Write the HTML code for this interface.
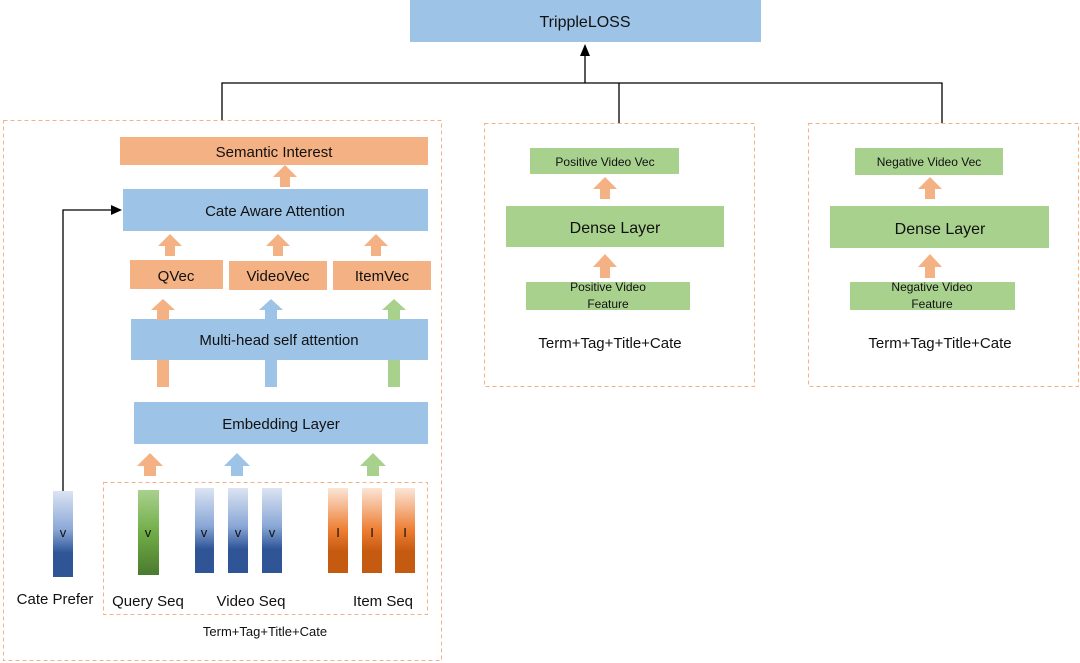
<!DOCTYPE html>
<html><head><meta charset="utf-8"><style>body{margin:0;background:#fff}svg{display:block}text{font-family:"Liberation Sans",sans-serif;fill:#111}</style></head><body>
<svg width="1080" height="663" viewBox="0 0 1080 663" xmlns="http://www.w3.org/2000/svg">
<defs>
<linearGradient id="gb" x1="0" y1="0" x2="0" y2="1"><stop offset="0" stop-color="#dbe4f3"/><stop offset="0.45" stop-color="#8aa7d6"/><stop offset="0.72" stop-color="#2f5597"/><stop offset="1" stop-color="#2f5597"/></linearGradient>
<linearGradient id="gg" x1="0" y1="0" x2="0" y2="1"><stop offset="0" stop-color="#a9d18e"/><stop offset="0.5" stop-color="#70ad47"/><stop offset="1" stop-color="#4a7a2e"/></linearGradient>
<linearGradient id="go" x1="0" y1="0" x2="0" y2="1"><stop offset="0" stop-color="#fbe5d6"/><stop offset="0.5" stop-color="#ed7d31"/><stop offset="0.75" stop-color="#c55a11"/><stop offset="1" stop-color="#c55a11"/></linearGradient>
</defs>
<g fill="none" stroke="#f4b183" stroke-dasharray="4,3" stroke-width="1">
<rect x="3.5" y="120.5" width="438" height="540"/>
<rect x="103.5" y="482.5" width="324" height="132"/>
<rect x="484.5" y="123.5" width="270" height="263"/>
<rect x="808.5" y="123.5" width="270" height="263"/>
</g>
<rect x="410" y="0" width="351" height="42" fill="#9dc3e6"/>
<text x="585" y="27" font-size="16" text-anchor="middle">TrippleLOSS</text>
<g stroke="#000" stroke-width="1.3" fill="none">
<path d="M222 120V83H942V123M619 83V123M585 83V52"/>
<path d="M63 491V210H112"/>
</g>
<path d="M585 44l-5 12h10z" fill="#000"/>
<path d="M122 210l-11-5v10z" fill="#000"/>
<!-- left stack -->
<rect x="120" y="137" width="308" height="28" fill="#f4b183"/>
<text x="274" y="157" font-size="15" text-anchor="middle">Semantic Interest</text>
<rect x="123" y="189" width="305" height="42" fill="#9dc3e6"/>
<text x="275" y="216" font-size="15" text-anchor="middle">Cate Aware Attention</text>
<rect x="130" y="260" width="93" height="29" fill="#f4b183"/>
<rect x="229" y="261" width="98" height="29" fill="#f4b183"/>
<rect x="333" y="261" width="98" height="29" fill="#f4b183"/>
<text x="176" y="281" font-size="15" text-anchor="middle">QVec</text>
<text x="278" y="281" font-size="15" text-anchor="middle">VideoVec</text>
<text x="382" y="281" font-size="15" text-anchor="middle">ItemVec</text>
<rect x="131" y="319" width="297" height="41" fill="#9dc3e6"/>
<text x="279" y="345" font-size="15" text-anchor="middle">Multi-head self attention</text>
<rect x="134" y="402" width="294" height="42" fill="#9dc3e6"/>
<text x="281" y="429" font-size="15" text-anchor="middle">Embedding Layer</text>
<!-- arrows: up arrow helper -->
<g fill="#f4b183">
<path d="M280 187v-10h-7l12-12 12 12h-7v10z"/>
<path d="M165 256v-10h-7l12-12 12 12h-7v10z"/>
<path d="M273 256v-10h-7l12-12 12 12h-7v10z"/>
<path d="M371 256v-10h-7l12-12 12 12h-7v10z"/>
<path d="M157 320v-10h-6l12-11 12 11h-6v10z"/>
<rect x="157" y="360" width="12" height="27"/>
<path d="M144 476v-10h-7l13-13 13 13h-7v10z"/>
</g>
<g fill="#9dc3e6">
<path d="M265 320v-10h-6l12-11 12 11h-6v10z"/>
<rect x="265" y="360" width="12" height="27"/>
<path d="M231 476v-10h-7l13-13 13 13h-7v10z"/>
</g>
<g fill="#a9d18e">
<path d="M388 320v-10h-6l12-11 12 11h-6v10z"/>
<rect x="388" y="360" width="12" height="27"/>
<path d="M367 476v-10h-7l13-13 13 13h-7v10z"/>
</g>
<!-- bars -->
<rect x="53" y="491" width="20" height="86" fill="url(#gb)"/>
<rect x="138" y="490" width="21" height="85" fill="url(#gg)"/>
<rect x="195" y="488" width="19" height="85" fill="url(#gb)"/>
<rect x="228" y="488" width="20" height="85" fill="url(#gb)"/>
<rect x="262" y="488" width="20" height="85" fill="url(#gb)"/>
<rect x="328" y="488" width="20" height="85" fill="url(#go)"/>
<rect x="362" y="488" width="20" height="85" fill="url(#go)"/>
<rect x="395" y="488" width="20" height="85" fill="url(#go)"/>
<g font-size="13" text-anchor="middle">
<text x="63" y="537">v</text><text x="148" y="537">v</text><text x="204" y="537">v</text><text x="238" y="537">v</text><text x="272" y="537">v</text>
<text x="338" y="537" font-family="Liberation Serif">I</text><text x="372" y="537" font-family="Liberation Serif">I</text><text x="405" y="537" font-family="Liberation Serif">I</text>
</g>
<g font-size="15" text-anchor="middle">
<text x="55" y="604">Cate Prefer</text>
<text x="148" y="606">Query Seq</text>
<text x="251" y="606">Video Seq</text>
<text x="383" y="606">Item Seq</text>
</g>
<text x="265" y="636" font-size="13" text-anchor="middle">Term+Tag+Title+Cate</text>
<!-- middle -->
<rect x="530" y="148" width="149" height="26" fill="#a9d18e"/>
<text x="605" y="166" font-size="12" text-anchor="middle">Positive Video Vec</text>
<rect x="506" y="206" width="218" height="41" fill="#a9d18e"/>
<text x="615" y="233" font-size="16" text-anchor="middle">Dense Layer</text>
<rect x="526" y="282" width="164" height="28" fill="#a9d18e"/>
<text x="608" y="291" font-size="12" text-anchor="middle">Positive Video</text>
<text x="608" y="308" font-size="12" text-anchor="middle">Feature</text>
<text x="610" y="348" font-size="15" text-anchor="middle">Term+Tag+Title+Cate</text>
<!-- right -->
<rect x="855" y="148" width="148" height="27" fill="#a9d18e"/>
<text x="929" y="166" font-size="12" text-anchor="middle">Negative Video Vec</text>
<rect x="830" y="206" width="219" height="42" fill="#a9d18e"/>
<text x="940" y="234" font-size="16" text-anchor="middle">Dense Layer</text>
<rect x="850" y="282" width="165" height="28" fill="#a9d18e"/>
<text x="932" y="291" font-size="12" text-anchor="middle">Negative Video</text>
<text x="932" y="308" font-size="12" text-anchor="middle">Feature</text>
<text x="940" y="348" font-size="15" text-anchor="middle">Term+Tag+Title+Cate</text>
<g fill="#f4b183">
<path d="M600 199v-10h-7l12-12 12 12h-7v10z"/>
<path d="M600 278v-11h-7l12-13 12 13h-7v11z"/>
<path d="M925 199v-10h-7l12-12 12 12h-7v10z"/>
<path d="M925 278v-11h-7l12-13 12 13h-7v11z"/>
</g>
</svg>
</body></html>
